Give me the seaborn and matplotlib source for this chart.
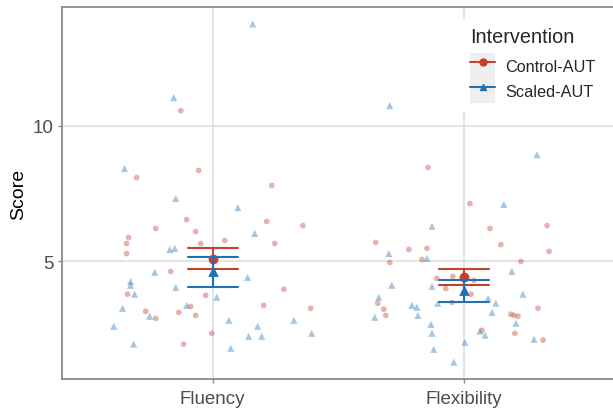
import numpy as np
import pandas as pd
import matplotlib
matplotlib.use("Agg")
import matplotlib.pyplot as plt
from matplotlib.lines import Line2D
from matplotlib.patches import Rectangle
from matplotlib.legend_handler import HandlerTuple
import seaborn as sns

# ---------------- data ----------------
tasks = ["Fluency", "Flexibility"]
groups = ["Control-AUT", "Scaled-AUT"]
palette = {"Control-AUT": "#C5402E", "Scaled-AUT": "#2171B5"}
markers = {"Control-AUT": "o", "Scaled-AUT": "^"}

fluency_control = [10.55, 8.09, 8.35, 7.80, 6.54, 6.21, 6.10, 5.88, 5.66, 5.66,
                   5.29, 4.63, 3.79, 3.75, 3.34, 3.16, 3.12, 3.01, 2.90, 2.35,
                   1.95, 6.47, 6.32, 5.77, 5.66, 3.97, 3.38, 3.27]
fluency_control_jitter = [-0.127, -0.303, -0.056, 0.235, -0.104, -0.227, -0.068, -0.335, -0.343, -0.048,
                          -0.343, -0.167, -0.339, -0.028, -0.088, -0.267, -0.135, -0.068, -0.227, -0.004,
                          -0.116, 0.215, 0.359, 0.048, 0.247, 0.283, 0.203, 0.390]

fluency_scaled = [11.03, 8.42, 13.75, 7.32, 6.98, 5.44, 5.48, 4.60, 4.26, 4.12,
                  3.79, 4.04, 3.68, 3.38, 3.27, 2.98, 2.61, 1.95, 6.03, 4.41,
                  2.83, 2.61, 2.83, 2.24, 2.24, 2.35, 1.80]
fluency_scaled_jitter = [-0.155, -0.351, 0.159, -0.147, 0.100, -0.171, -0.151, -0.231, -0.327, -0.327,
                         -0.311, -0.147, 0.016, -0.104, -0.359, -0.251, -0.394, -0.315, 0.167, 0.139,
                         0.064, 0.179, 0.323, 0.143, 0.195, 0.394, 0.072]

flexibility_control = [8.46, 7.13, 6.21, 6.32, 5.70, 5.62, 5.37, 5.44, 5.48, 4.96,
                       5.07, 5.00, 4.37, 4.45, 4.30, 4.00, 3.79, 3.46, 3.49, 3.24,
                       3.27, 3.01, 3.05, 3.01, 2.98, 2.35, 2.46, 2.10]
flexibility_control_jitter = [-0.143, 0.024, 0.104, 0.331, -0.351, 0.147, 0.339, -0.219, -0.147, -0.295,
                              -0.167, 0.227, -0.108, -0.044, 0.040, -0.072, 0.028, -0.343, -0.048, -0.319,
                              0.295, -0.311, 0.187, 0.199, 0.215, 0.203, 0.072, 0.315]

flexibility_scaled = [10.74, 8.93, 7.10, 6.29, 5.29, 5.11, 4.63, 4.12, 4.08, 3.79,
                      3.68, 3.64, 3.46, 3.38, 3.31, 3.46, 3.12, 2.94, 3.01, 2.68,
                      2.72, 2.35, 2.43, 2.28, 2.13, 1.76, 2.02, 1.29]
flexibility_scaled_jitter = [-0.295, 0.291, 0.159, -0.127, -0.299, -0.147, 0.191, -0.287, -0.127, 0.235,
                             -0.339, 0.096, -0.104, -0.207, -0.187, 0.127, 0.112, -0.355, -0.183, -0.131,
                             0.207, -0.127, 0.064, 0.084, 0.279, -0.120, 0.004, -0.040]

y_ticks = [5, 10]

# ---------------- table ----------------
series = [
    ("Fluency", "Control-AUT", fluency_control, fluency_control_jitter),
    ("Fluency", "Scaled-AUT", fluency_scaled, fluency_scaled_jitter),
    ("Flexibility", "Control-AUT", flexibility_control, flexibility_control_jitter),
    ("Flexibility", "Scaled-AUT", flexibility_scaled, flexibility_scaled_jitter),
]
rows = []
for task, grp, vals, jit in series:
    for v, j in zip(vals, jit):
        rows.append({"Task": task, "Intervention": grp, "Score": v,
                     "xpos": tasks.index(task) + j})
df = pd.DataFrame(rows)
df["Task"] = pd.Categorical(df["Task"], categories=tasks, ordered=True)

# ---------------- style ----------------
sns.set_theme(style="white")
plt.rcParams["font.family"] = ["Liberation Sans", "DejaVu Sans"]

W, H = 613, 410
fig = plt.figure(figsize=(W / 100, H / 100), dpi=100)
left, right, top, bottom = 62, 614.6, 8, 380
ax = fig.add_axes([left / W, (H - bottom) / H, (right - left) / W, (bottom - top) / H])

sns.scatterplot(data=df, x="xpos", y="Score", hue="Intervention", style="Intervention",
                size="Intervention", sizes={"Control-AUT": 17, "Scaled-AUT": 26},
                markers=markers, palette=palette, hue_order=groups, alpha=0.4,
                linewidth=0, legend=False, ax=ax, zorder=2)

sns.pointplot(data=df, x="Task", y="Score", hue="Intervention", hue_order=groups,
              order=tasks, palette=palette, markers=["o", "^"], linestyles="none",
              dodge=False, errorbar="se", capsize=0.2, markersize=5,
              err_kws={"linewidth": 1.5}, legend=False, ax=ax)

# axis limits with ggplot-like 5% expansion
ymin, ymax = df["Score"].min(), df["Score"].max()
pad = 0.05 * (ymax - ymin)
ax.set_ylim(ymin - pad, ymax + pad)
ax.set_xlim(-0.6, 1.6)
ax.set_yticks(y_ticks)
ax.set_yticklabels([str(t) for t in y_ticks])
ax.set_xticks(range(len(tasks)))
ax.set_xticklabels(tasks)

ax.grid(True, color="#dcdcdc", linewidth=1.1)
ax.xaxis.grid(True)
ax.set_axisbelow(True)
for s in ax.spines.values():
    s.set_color("#8a8a8a")
    s.set_linewidth(1.3)
ax.tick_params(axis="both", which="major", length=3.2, width=1, color="#8a8a8a",
               labelsize=13.5, labelcolor="#4d4d4d", left=True, bottom=True)
ax.tick_params(axis="x", pad=4.5)
ax.tick_params(axis="y", pad=3)
ax.set_xlabel("")
ax.set_ylabel("Score", fontsize=14, color="black", labelpad=4)

# legend
handles = [(Rectangle((0, 0), 1, 1, facecolor="#efefef", edgecolor="none"),
            Line2D([0], [0], color=palette[g], marker=markers[g], markersize=5, linewidth=1.5))
           for g in groups]
leg = ax.legend(handles, groups, title="Intervention", loc="upper left",
                bbox_to_anchor=((462 - left) / (right - left), (bottom - 20) / (bottom - top)),
                borderaxespad=0, fontsize=11.7, title_fontsize=14.3,
                handlelength=1.55, handleheight=2.0, labelspacing=0, handletextpad=0.6,
                borderpad=0.5, frameon=True, fancybox=False, framealpha=1,
                facecolor="white", edgecolor="none", alignment="left",
                handler_map={tuple: HandlerTuple(ndivide=1, pad=0)})
leg._legend_box.sep = 5
leg.set_zorder(10)

fig.savefig("out.png", dpi=100)
